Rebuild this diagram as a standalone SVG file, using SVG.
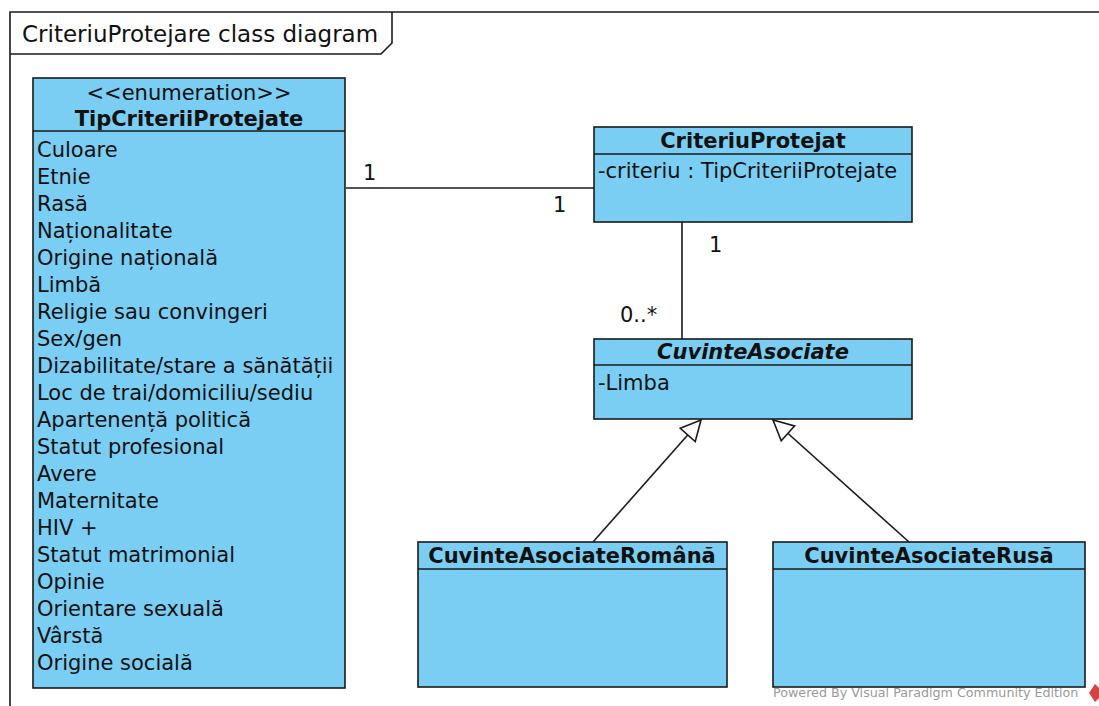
<svg xmlns="http://www.w3.org/2000/svg" width="1099" height="706" viewBox="0 0 1099 706">
<style>
.box{fill:#7acef4;stroke:#1a1a1a;stroke-width:1.6}
.div{stroke:#1a1a1a;stroke-width:1.6}
.t{font-family:"DejaVu Sans",sans-serif;font-size:21px;fill:#111}
.b{font-weight:bold}
.c{text-anchor:middle}
.ln{stroke:#1a1a1a;stroke-width:1.6;fill:none}
</style>
<defs>
<marker id="gen" markerWidth="24" markerHeight="24" refX="22" refY="12" orient="auto" markerUnits="userSpaceOnUse">
<path d="M22,12 L2,2 L2,22 Z" fill="#fff" stroke="#1a1a1a" stroke-width="1.6"/>
</marker>
</defs>
<rect width="1099" height="706" fill="#fff"/>
<g id="frame">
<path d="M10,706 V12 H1099" class="ln"/>
<path d="M10,54 H381 L392,43 V12" class="ln"/>
<text x="22" y="42" class="t" style="font-size:23px">CriteriuProtejare class diagram</text>
</g>
<g id="connectors">
<line x1="346" y1="188" x2="594" y2="188" class="ln"/>
<text x="363" y="180" class="t">1</text>
<text x="553" y="212" class="t">1</text>
<line x1="682" y1="222" x2="682" y2="339" class="ln"/>
<text x="709" y="252" class="t">1</text>
<text x="620" y="322" class="t">0..*</text>
<line x1="593" y1="542" x2="701" y2="420" class="ln" marker-end="url(#gen)"/>
<line x1="909" y1="542" x2="773" y2="420" class="ln" marker-end="url(#gen)"/>
</g>
<g id="TipCriteriiProtejate">
<rect x="33" y="78" width="312" height="610" class="box"/>
<line x1="33" y1="131" x2="345" y2="131" class="div"/>
<text x="189" y="100" class="t c">&lt;&lt;enumeration&gt;&gt;</text>
<text x="189" y="126" class="t c b">TipCriteriiProtejate</text>
<text class="t" x="37">
<tspan x="37" y="157">Culoare</tspan>
<tspan x="37" y="184">Etnie</tspan>
<tspan x="37" y="211">Rasă</tspan>
<tspan x="37" y="238">Naționalitate</tspan>
<tspan x="37" y="265">Origine națională</tspan>
<tspan x="37" y="292">Limbă</tspan>
<tspan x="37" y="319">Religie sau convingeri</tspan>
<tspan x="37" y="346">Sex/gen</tspan>
<tspan x="37" y="373">Dizabilitate/stare a sănătății</tspan>
<tspan x="37" y="400">Loc de trai/domiciliu/sediu</tspan>
<tspan x="37" y="427">Apartenență politică</tspan>
<tspan x="37" y="454">Statut profesional</tspan>
<tspan x="37" y="481">Avere</tspan>
<tspan x="37" y="508">Maternitate</tspan>
<tspan x="37" y="535">HIV +</tspan>
<tspan x="37" y="562">Statut matrimonial</tspan>
<tspan x="37" y="589">Opinie</tspan>
<tspan x="37" y="616">Orientare sexuală</tspan>
<tspan x="37" y="643">Vârstă</tspan>
<tspan x="37" y="670">Origine socială</tspan>
</text>
</g>
<g id="CriteriuProtejat">
<rect x="594" y="127" width="318" height="95" class="box"/>
<line x1="594" y1="154" x2="912" y2="154" class="div"/>
<text x="753" y="148" class="t c b">CriteriuProtejat</text>
<text x="598" y="178" class="t">-criteriu : TipCriteriiProtejate</text>
</g>
<g id="CuvinteAsociate">
<rect x="594" y="339" width="318" height="80" class="box"/>
<line x1="594" y1="365" x2="912" y2="365" class="div"/>
<text x="753" y="359" class="t c b" font-style="italic">CuvinteAsociate</text>
<text x="598" y="390" class="t">-Limba</text>
</g>
<g id="CuvinteAsociateRomana">
<rect x="418" y="542" width="309" height="145" class="box"/>
<line x1="418" y1="569" x2="727" y2="569" class="div"/>
<text x="572" y="563" class="t c b">CuvinteAsociateRomână</text>
</g>
<g id="CuvinteAsociateRusa">
<rect x="773" y="542" width="312" height="145" class="box"/>
<line x1="773" y1="569" x2="1085" y2="569" class="div"/>
<text x="929" y="563" class="t c b">CuvinteAsociateRusă</text>
</g>
<g id="watermark">
<text x="773" y="697" style="font-family:'DejaVu Sans',sans-serif;font-size:12.7px;fill:#9a9a9a">Powered By Visual Paradigm Community Edition</text>
<path d="M1095,684 L1099,688 L1099,698 L1095,702 L1089,693 Z" fill="#d94040"/>
</g>
</svg>
